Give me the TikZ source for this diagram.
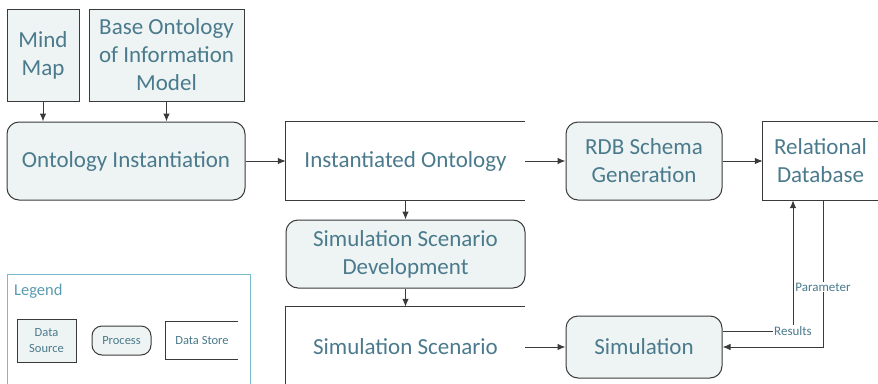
\documentclass[tikz,border=0pt]{standalone}
\usepackage{fontspec}
\setmainfont{Carlito}
\usetikzlibrary{arrows.meta}
\definecolor{txt}{HTML}{4A7A8C}
\definecolor{boxfill}{HTML}{EEF4F4}
\definecolor{edge}{HTML}{3A3A3A}
\definecolor{legendc}{HTML}{7AB8CC}
\definecolor{legendt}{HTML}{5A9AB0}
\tikzset{
  base/.style={inner sep=0pt, align=center, text=txt, font=\fontsize{23}{28}\selectfont},
  source/.style={base, draw=edge, line width=1pt, fill=boxfill},
  process/.style={base, draw=edge, line width=1pt, fill=boxfill, rounded corners=12pt},
  store/.style={base},
  storeline/.style={draw=edge, line width=1pt},
  flow/.style={draw=edge, line width=1pt, -{Latex[length=8pt,width=6.5pt]}},
  tag/.style={fill=white, inner sep=1pt, text=txt, font=\fontsize{13}{15}\selectfont},
  smalltext/.style={font=\fontsize{12.5}{16}\selectfont}
}
\begin{document}
\begin{tikzpicture}[x=1pt,y=-1pt]
\useasboundingbox (0,0) rectangle (878,383);
\clip (0,0) rectangle (878,383);
% sources
\node[source, minimum width=72pt, minimum height=92pt] (mind) at (43,55) {Mind\\Map};
\node[source, minimum width=155pt, minimum height=92pt] (baseonto) at (166.5,55) {Base Ontology\\of Information\\Model};
% processes
\node[process, minimum width=238pt, minimum height=78pt] (inst) at (126,161) {Ontology Instantiation};
\node[process, minimum width=156pt, minimum height=78pt] (rdb) at (644,161) {RDB Schema\\Generation};
\node[process, minimum width=239pt, minimum height=68pt] (ssd) at (405.5,254) {Simulation Scenario\\Development};
\node[process, minimum width=156pt, minimum height=62pt] (sim) at (644,347) {Simulation};
% data stores (open on the right)
\node[store, minimum width=239pt, minimum height=78pt] (io) at (405.5,161) {Instantiated Ontology};
\draw[storeline] (io.north east) -- (io.north west) -- (io.south west) -- (io.south east);
\node[store, minimum width=115pt, minimum height=78pt] (reldb) at (820.5,161) {Relational\\Database};
\draw[storeline] (reldb.north east) -- (reldb.north west) -- (reldb.south west) -- (reldb.south east);
\node[store, minimum width=239pt, minimum height=80pt] (ss) at (405.5,347) {Simulation Scenario};
\draw[storeline] (ss.north east) -- (ss.north west) -- (ss.south west) -- (ss.south east);
% flows
\draw[flow] (mind.south) -- (mind.south |- inst.north);
\draw[flow] (baseonto.south) -- (baseonto.south |- inst.north);
\draw[flow] (inst.east) -- (io.west);
\draw[flow] (io.east) -- (rdb.west);
\draw[flow] (rdb.east) -- (reldb.west);
\draw[flow] (io.south) -- (ssd.north);
\draw[flow] (ssd.south) -- (ss.north);
\draw[flow] (ss.east) -- (sim.west);
\coordinate (resturn) at (793,331);
\coordinate (parturn) at (823,347);
\draw[flow] ([yshift=16pt]sim.east) -- (resturn) -- (resturn |- reldb.south);
\draw[flow] (parturn |- reldb.south) -- (parturn) -- (sim.east);
\node[tag] (results) at (resturn) {Results};
\node[tag] (param) at (823,287) {Parameter};
% legend
\draw[legendc, line width=1pt] (7,395) -- (7,274) -- (250,274) -- (250,395);
\node[anchor=west, text=legendt, font=\fontsize{16.5}{18}\selectfont, inner sep=0pt] (legendtitle) at (14,291) {Legend};
\node[source, smalltext, minimum width=59pt, minimum height=43pt] (lsrc) at (46.5,340.5) {Data\\Source};
\node[process, smalltext, rounded corners=10pt, minimum width=59pt, minimum height=29pt] (lproc) at (121.5,340.5) {Process};
\node[store, smalltext, minimum width=72pt, minimum height=37pt] (lstore) at (202,340.5) {Data Store};
\draw[storeline] (lstore.north east) -- (lstore.north west) -- (lstore.south west) -- (lstore.south east);
\end{tikzpicture}
\end{document}
